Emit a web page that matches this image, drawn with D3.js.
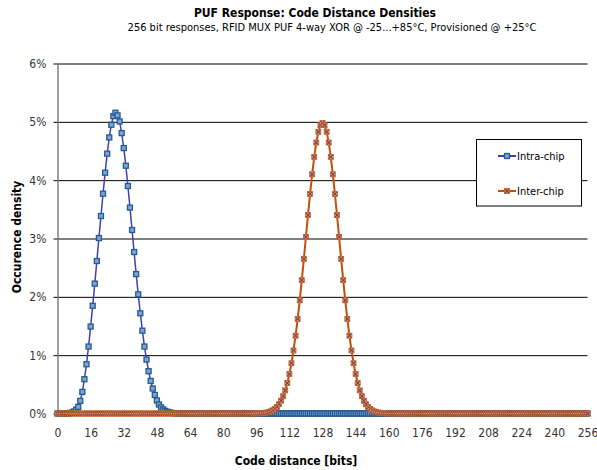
<!DOCTYPE html>
<html>
<head>
<meta charset="utf-8">
<script src="https://cdn.jsdelivr.net/npm/d3@7"></script>
<style>
body { margin: 0; background: #fff; }
svg { font-family: "DejaVu Sans Condensed", "DejaVu Sans", sans-serif; }
</style>
</head>
<body>
<svg class="chart" width="597" height="470"></svg>
<script>
// Occurence density in %, one value per code distance 0..256
const intraChip = [
  0, 0, 0, 0, 0.001, 0.003, 0.008, 0.018, 0.035, 0.065, 0.113, 0.216, 0.370, 0.588, 0.845, 1.148,
  1.490, 1.846, 2.227, 2.614, 3.008, 3.385, 3.768, 4.128, 4.454, 4.733, 4.950, 5.098, 5.156, 5.110, 5.007, 4.807,
  4.550, 4.248, 3.900, 3.530, 3.145, 2.768, 2.390, 2.043, 1.718, 1.420, 1.148, 0.925, 0.725, 0.558, 0.428, 0.319,
  0.223, 0.154, 0.105, 0.070, 0.046, 0.030, 0.019, 0.012, 0.007, 0.004, 0.002, 0.001, 0, 0, 0, 0,
  0, 0, 0, 0, 0, 0, 0, 0, 0, 0, 0, 0, 0, 0, 0, 0,
  0, 0, 0, 0, 0, 0, 0, 0, 0, 0, 0, 0, 0, 0, 0, 0,
  0, 0, 0, 0, 0, 0, 0, 0, 0, 0, 0, 0, 0, 0, 0, 0,
  0, 0, 0, 0, 0, 0, 0, 0, 0, 0, 0, 0, 0, 0, 0, 0,
  0, 0, 0, 0, 0, 0, 0, 0, 0, 0, 0, 0, 0, 0, 0, 0,
  0, 0, 0, 0, 0, 0, 0, 0, 0, 0, 0, 0, 0, 0, 0, 0,
  0, 0, 0, 0, 0, 0, 0, 0, 0, 0, 0, 0, 0, 0, 0, 0,
  0, 0, 0, 0, 0, 0, 0, 0, 0, 0, 0, 0, 0, 0, 0, 0,
  0, 0, 0, 0, 0, 0, 0, 0, 0, 0, 0, 0, 0, 0, 0, 0,
  0, 0, 0, 0, 0, 0, 0, 0, 0, 0, 0, 0, 0, 0, 0, 0,
  0, 0, 0, 0, 0, 0, 0, 0, 0, 0, 0, 0, 0, 0, 0, 0,
  0, 0, 0, 0, 0, 0, 0, 0, 0, 0, 0, 0, 0, 0, 0, 0,
  0
];

const interChip = [
  0, 0, 0, 0, 0, 0, 0, 0, 0, 0, 0, 0, 0, 0, 0, 0,
  0, 0, 0, 0, 0, 0, 0, 0, 0, 0, 0, 0, 0, 0, 0, 0,
  0, 0, 0, 0, 0, 0, 0, 0, 0, 0, 0, 0, 0, 0, 0, 0,
  0, 0, 0, 0, 0, 0, 0, 0, 0, 0, 0, 0, 0, 0, 0, 0,
  0, 0, 0, 0, 0, 0, 0, 0, 0, 0, 0, 0, 0, 0, 0, 0,
  0, 0, 0, 0, 0, 0, 0, 0, 0, 0, 0, 0, 0, 0, 0, 0.001,
  0.002, 0.003, 0.004, 0.007, 0.011, 0.016, 0.025, 0.037, 0.055, 0.079, 0.113, 0.159, 0.219, 0.297, 0.397, 0.522,
  0.676, 0.862, 1.081, 1.334, 1.622, 1.941, 2.286, 2.651, 3.027, 3.402, 3.764, 4.101, 4.399, 4.645, 4.829, 4.943,
  4.982, 4.943, 4.829, 4.645, 4.399, 4.101, 3.764, 3.402, 3.027, 2.651, 2.286, 1.941, 1.622, 1.334, 1.081, 0.862,
  0.676, 0.522, 0.397, 0.297, 0.219, 0.159, 0.113, 0.079, 0.055, 0.037, 0.025, 0.016, 0.011, 0.007, 0.004, 0.003,
  0.002, 0.001, 0, 0, 0, 0, 0, 0, 0, 0, 0, 0, 0, 0, 0, 0,
  0, 0, 0, 0, 0, 0, 0, 0, 0, 0, 0, 0, 0, 0, 0, 0,
  0, 0, 0, 0, 0, 0, 0, 0, 0, 0, 0, 0, 0, 0, 0, 0,
  0, 0, 0, 0, 0, 0, 0, 0, 0, 0, 0, 0, 0, 0, 0, 0,
  0, 0, 0, 0, 0, 0, 0, 0, 0, 0, 0, 0, 0, 0, 0, 0,
  0, 0, 0, 0, 0, 0, 0, 0, 0, 0, 0, 0, 0, 0, 0, 0,
  0
];

const xTicks = [0, 16, 32, 48, 64, 80, 96, 112, 128, 144, 160, 176, 192, 208, 224, 240, 256];
const yTicks = [0, 1, 2, 3, 4, 5, 6];
const seriesNames = ['Intra-chip', 'Inter-chip'];

const svg = d3.select('.chart');

// Plot area
const plotLeft = 57.5, plotRight = 587.5, plotTop = 63.5, plotBottom = 413.5;

const xScale = d3.scaleLinear().domain([0, 256]).range([plotLeft, plotRight]);
const yScale = d3.scaleLinear().domain([0, 6]).range([plotBottom, plotTop]);

// Horizontal gridlines
svg.append('g')
    .attr('transform', `translate(${plotLeft},0)`)
    .call(d3.axisLeft(yScale).tickValues(yTicks).tickSize(-(plotRight - plotLeft)).tickFormat(''))
    .call(g => g.select('.domain').remove())
    .call(g => g.selectAll('line').attr('stroke', '#000'));

// Y axis
svg.append('g')
    .attr('transform', `translate(${plotLeft},0)`)
    .call(d3.axisLeft(yScale).tickValues(yTicks).tickSize(4).tickPadding(7).tickSizeOuter(0)
        .tickFormat(d => d + '%'))
    .call(g => g.select('.domain').attr('stroke', '#808080').attr('stroke-width', 1.5))
    .call(g => g.selectAll('.tick line').attr('stroke', '#000'))
    .call(g => g.selectAll('text').attr('font-size', 12).attr('fill', '#333')
        .attr('font-family', '"DejaVu Sans Condensed", "DejaVu Sans", sans-serif'));

// X axis (small tick marks + labels)
svg.append('g')
    .attr('transform', `translate(0,${plotBottom})`)
    .call(d3.axisBottom(xScale).tickValues(d3.range(0, 257, 4)).tickSize(3).tickFormat('').tickSizeOuter(0))
    .call(g => g.select('.domain').attr('stroke', '#808080'))
    .call(g => g.selectAll('.tick line').attr('stroke', '#808080'));

svg.append('g')
    .attr('transform', `translate(0,${plotBottom})`)
    .call(d3.axisBottom(xScale).tickValues(xTicks).tickSize(0).tickPadding(15))
    .call(g => g.select('.domain').remove())
    .call(g => g.selectAll('text').attr('font-size', 12).attr('fill', '#333')
        .attr('font-family', '"DejaVu Sans Condensed", "DejaVu Sans", sans-serif'));

const line = d3.line()
    .x((d, i) => xScale(i))
    .y(d => yScale(d));

// Intra-chip series
svg.append('path')
    .datum(intraChip)
    .attr('fill', 'none')
    .attr('stroke', '#4040b0')
    .attr('stroke-width', 1.5)
    .attr('d', line);

function squareMarker(sel) {
    sel.append('rect')
        .attr('x', -2.5).attr('y', -2.5).attr('width', 5).attr('height', 5)
        .attr('fill', '#7fa3cf')
        .attr('stroke', '#245a96')
        .attr('stroke-width', 1.3);
}

function crossMarker(sel) {
    sel.append('rect')
        .attr('x', -2.5).attr('y', -2.5).attr('width', 5).attr('height', 5)
        .attr('fill', '#c9a3c2')
        .attr('stroke', '#c0601e')
        .attr('stroke-width', 0.8);
    sel.append('path')
        .attr('d', 'M-2,-2L2,2M-2,2L2,-2')
        .attr('stroke', '#8e3a1a')
        .attr('stroke-width', 1.1);
}

svg.append('g')
    .selectAll('g')
    .data(intraChip)
    .join('g')
    .attr('transform', (d, i) => `translate(${xScale(i)},${yScale(d)})`)
    .call(squareMarker);

// Inter-chip series
svg.append('path')
    .datum(interChip)
    .attr('fill', 'none')
    .attr('stroke', '#c0500a')
    .attr('stroke-width', 2)
    .attr('d', line);

svg.append('g')
    .selectAll('g')
    .data(interChip)
    .join('g')
    .attr('transform', (d, i) => `translate(${xScale(i)},${yScale(d)})`)
    .call(crossMarker);

// Legend
const legend = svg.append('g');
legend.append('rect')
    .attr('x', 476.5).attr('y', 139.5).attr('width', 105).attr('height', 66.5)
    .attr('fill', '#fff').attr('stroke', '#000');

const legendRows = [
    { name: seriesNames[0], color: '#4040b0', y: 156, marker: squareMarker },
    { name: seriesNames[1], color: '#c0500a', y: 191, marker: crossMarker }
];
legendRows.forEach(r => {
    legend.append('line')
        .attr('x1', 498).attr('x2', 516).attr('y1', r.y).attr('y2', r.y)
        .attr('stroke', r.color).attr('stroke-width', 2);
    legend.append('g').attr('transform', `translate(507,${r.y})`).call(r.marker);
    legend.append('text')
        .attr('x', 517).attr('y', r.y + 4)
        .attr('font-size', 11).attr('fill', '#000')
        .text(r.name);
});

// Titles
svg.append('text')
    .attr('x', 315).attr('y', 16.5)
    .attr('text-anchor', 'middle')
    .attr('font-size', 12).attr('font-weight', 'bold')
    .text('PUF Response: Code Distance Densities');

svg.append('text')
    .attr('x', 332).attr('y', 31)
    .attr('text-anchor', 'middle')
    .attr('font-size', 11)
    .text('256 bit responses, RFID MUX PUF 4-way XOR @ -25...+85°C, Provisioned @ +25°C');

svg.append('text')
    .attr('x', 296).attr('y', 465)
    .attr('text-anchor', 'middle')
    .attr('font-size', 12).attr('font-weight', 'bold')
    .text('Code distance [bits]');

svg.append('text')
    .attr('transform', 'translate(21,237) rotate(-90)')
    .attr('text-anchor', 'middle')
    .attr('font-size', 12).attr('font-weight', 'bold')
    .text('Occurence density');
</script>
</body>
</html>
